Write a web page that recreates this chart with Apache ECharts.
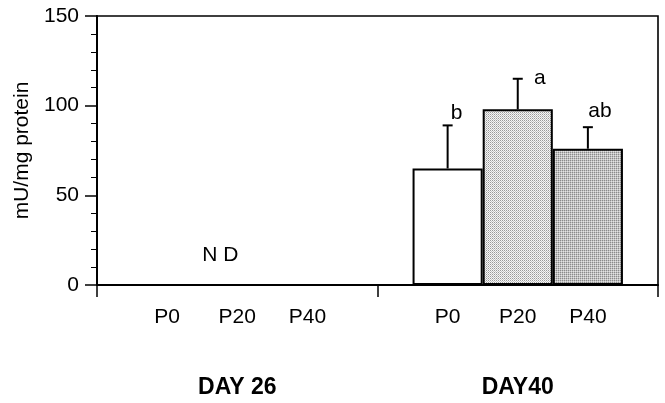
<!DOCTYPE html>
<html>
<head>
<meta charset="utf-8">
<script src="https://cdn.jsdelivr.net/npm/echarts@6/dist/echarts.min.js"></script>
<style>
  html, body { margin: 0; padding: 0; background: #fff; }
  #chart { width: 665px; height: 403px; }
</style>
</head>
<body>
<div id="chart"></div>
<script>
// ---- data ----
const treatments = ['P0', 'P20', 'P40'];
const days = ['DAY 26', 'DAY40'];
const day26Means = [null, null, null];      // not detected (N D)
const day40Means = [65, 98, 76];            // mU/mg protein
const day40Errors = [24, 17, 12];           // upper error bar
const day40Letters = ['b', 'a', 'ab'];      // significance groups
const yTickValues = [0, 50, 100, 150];
const notDetectedText = 'N D';

// ---- layout / style constants ----
const FONT = "'Liberation Sans', Arial, Helvetica, sans-serif";
const INK = '#000';
const letterOffsets = [[9, -12], [22, -1], [12, -16]];
const ndOffset = [-17, -30];

// Stipple fills built from tiny canvas tiles
function makePattern(pixels, size) {
  const c = document.createElement('canvas');
  c.width = size; c.height = size;
  const ctx = c.getContext('2d');
  ctx.fillStyle = '#f6f6f6';
  ctx.fillRect(0, 0, size, size);
  pixels.forEach(([x, y, col]) => { ctx.fillStyle = col; ctx.fillRect(x, y, 1, 1); });
  return { image: c, repeat: 'repeat' };
}
const fineStipple = makePattern([[0, 0, '#9a9a9a'], [1, 1, '#c4c4c4']], 2);
const coarseStipple = makePattern([[0, 0, '#8a8a8a'], [1, 0, '#c2c2c2'], [0, 1, '#c2c2c2'], [1, 1, '#e2e2e2']], 2);
const barFills = ['#ffffff', fineStipple, coarseStipple];

// Category slots: a spacer, three treatments, a spacer, three treatments, a spacer
const categories = [''].concat(treatments, [''], treatments, ['']);
const day26Index = treatments.map((_, i) => 1 + i);
const day40Index = treatments.map((_, i) => 5 + i);

const barData = categories.map(() => null);
day26Index.forEach((ci, i) => { if (day26Means[i] != null) barData[ci] = { value: day26Means[i], itemStyle: { color: barFills[i] } }; });
day40Index.forEach((ci, i) => { barData[ci] = { value: day40Means[i], itemStyle: { color: barFills[i] } }; });

const errorData = day40Index.map((ci, i) => [ci, day40Means[i], day40Means[i] + day40Errors[i], i]);

const chart = echarts.init(document.getElementById('chart'), null, { renderer: 'canvas' });

chart.setOption({
  backgroundColor: '#fff',
  animation: false,
  textStyle: { fontFamily: FONT, color: INK },
  grid: {
    left: 97, right: 7, top: 16, bottom: 118,
    show: true, borderColor: INK, borderWidth: 1.6, backgroundColor: 'transparent'
  },
  xAxis: [
    {
      type: 'category',
      data: categories,
      boundaryGap: false,
      axisLine: { lineStyle: { color: INK, width: 2 } },
      axisTick: {
        show: true, length: 12,
        interval: (idx) => idx % 4 === 0,
        lineStyle: { color: INK, width: 1.5 }
      },
      axisLabel: {
        interval: 0, margin: 22,
        fontSize: 21, color: INK, fontFamily: FONT
      },
      splitLine: { show: false }
    },
    {
      type: 'category',
      data: days,
      position: 'bottom',
      boundaryGap: true,
      axisLine: { show: false },
      axisTick: { show: false },
      axisLabel: { margin: 91, fontSize: 23, fontWeight: 'bold', color: INK, fontFamily: FONT },
      splitLine: { show: false }
    }
  ],
  yAxis: {
    type: 'value',
    min: yTickValues[0],
    max: yTickValues[yTickValues.length - 1],
    interval: yTickValues[1] - yTickValues[0],
    name: 'mU/mg protein',
    nameLocation: 'middle',
    nameGap: 57,
    nameTextStyle: { fontSize: 21, color: INK, fontFamily: FONT },
    axisLine: { show: true, lineStyle: { color: INK, width: 2 } },
    axisTick: { show: true, length: 12, lineStyle: { color: INK, width: 1.5 } },
    minorTick: { show: true, splitNumber: 5, length: 6, lineStyle: { color: INK, width: 1 } },
    axisLabel: { margin: 18, fontSize: 21, color: INK, fontFamily: FONT },
    splitLine: { show: false }
  },
  series: [
    {
      type: 'bar',
      xAxisIndex: 0,
      data: barData,
      barWidth: '100%',
      itemStyle: { borderColor: INK, borderWidth: 2 },
      z: 2
    },
    {
      // error bars with significance letters
      type: 'custom',
      xAxisIndex: 0,
      data: errorData,
      encode: { x: 0, y: [1, 2] },
      z: 3,
      renderItem: (params, api) => {
        const x = api.value(0);
        const base = api.coord([x, api.value(1)]);
        const top = api.coord([x, api.value(2)]);
        const k = api.value(3);
        const off = letterOffsets[k];
        const line = { stroke: INK, lineWidth: 2 };
        return {
          type: 'group',
          children: [
            { type: 'line', shape: { x1: base[0], y1: base[1], x2: top[0], y2: top[1] }, style: line },
            { type: 'line', shape: { x1: top[0] - 5, y1: top[1], x2: top[0] + 5, y2: top[1] }, style: line },
            {
              type: 'text', x: top[0] + off[0], y: top[1] + off[1],
              style: { text: day40Letters[k], fill: INK, font: '21px ' + FONT, align: 'center', verticalAlign: 'middle' }
            }
          ]
        };
      }
    },
    {
      // "not detected" note for the DAY 26 group
      type: 'custom',
      xAxisIndex: 0,
      data: [[day26Index[1], 0]],
      z: 3,
      renderItem: (params, api) => {
        const p = api.coord([api.value(0), api.value(1)]);
        return {
          type: 'text', x: p[0] + ndOffset[0], y: p[1] + ndOffset[1],
          style: { text: notDetectedText, fill: INK, font: '21px ' + FONT, align: 'center', verticalAlign: 'middle' }
        };
      }
    }
  ]
});
</script>
</body>
</html>
